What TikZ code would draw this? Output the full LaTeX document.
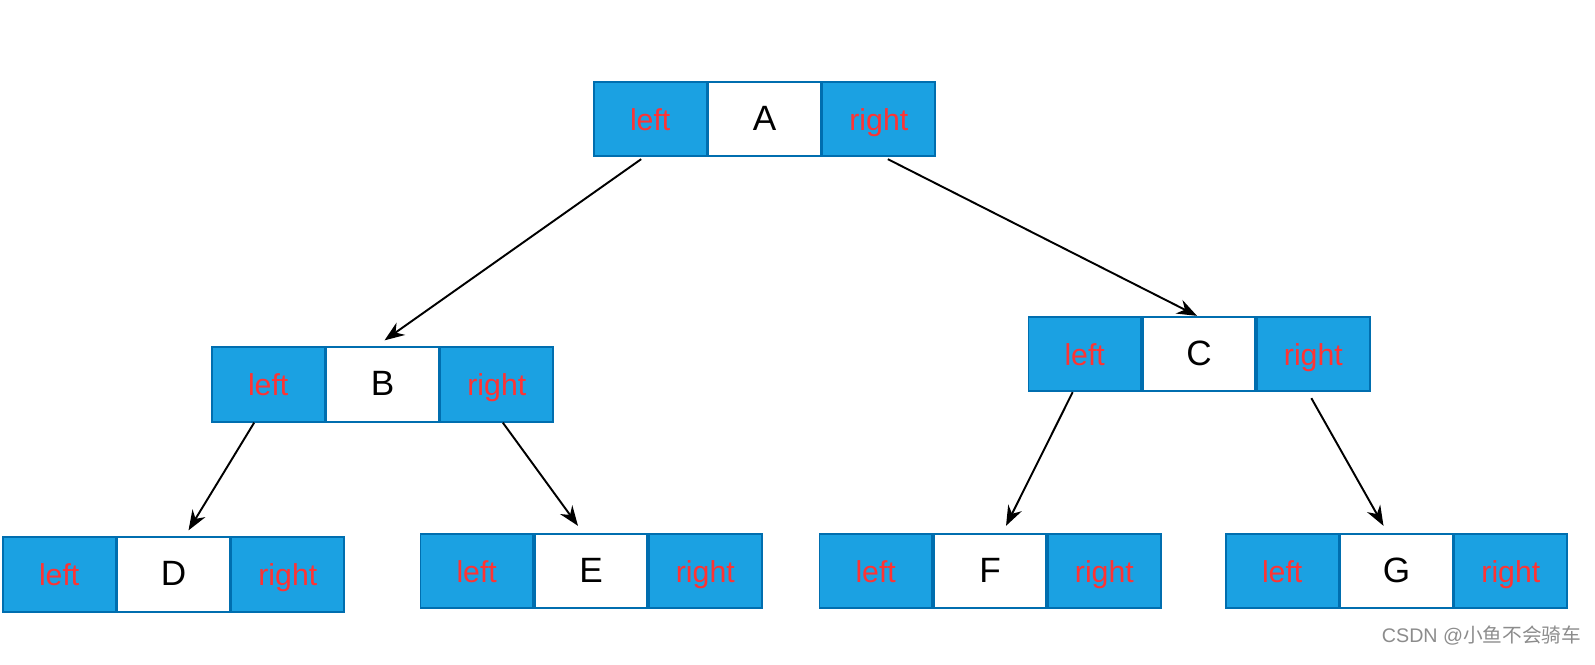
\documentclass[tikz,border=0pt]{standalone}
\usepackage{fontspec}
\setmainfont{Liberation Sans}
\newfontfamily\cjk{Noto Sans CJK SC}
\usepackage{tikz}
\usetikzlibrary{positioning,arrows.meta}
\definecolor{cellblue}{HTML}{1BA1E2}
\definecolor{cellline}{HTML}{006EAF}
\definecolor{ptrred}{HTML}{FF3333}
\tikzset{cell/.style={rectangle, draw=cellline, line width=0.5pt, minimum width=1.125cm,
      minimum height=0.745cm, inner sep=0pt, text height=1.6ex, text depth=0.4ex,
      font=\fontsize{8.6}{10}\selectfont},
  ptr/.style={cell, fill=cellblue, text=ptrred},
  key/.style={cell, fill=white, text=black, font=\fontsize{10}{12}\selectfont},
  link/.style={-{Stealth[length=2mm,width=1.5mm]}, line width=0.55pt}}
% one tree node: left pointer, key, right pointer
\newcommand{\treenode}[4]{
  \node[key] (#1) at (#2,#3) {#4};
  \node[ptr,left=0pt of #1] (#1l) {left};
  \node[ptr,right=0pt of #1] (#1r) {right};
}

\begin{document}
\begin{tikzpicture}[x=0.01cm,y=-0.01cm]
    \useasboundingbox (0,0) rectangle (1595,664);
    \treenode{A}{764.5}{119}{A}
    \treenode{B}{382.5}{384.5}{B}
    \treenode{C}{1199}{354}{C}
    \treenode{D}{173.5}{574.5}{D}
    \treenode{E}{591}{571}{E}
    \treenode{F}{990}{571}{F}
    \treenode{G}{1396.5}{571}{G}
    \draw[link] ([xshift=-0.09cm,yshift=-0.02cm]Al.south) -- ([xshift=0.02cm,yshift=0.06cm]B.north);
    \draw[link] ([xshift=0.09cm,yshift=-0.02cm]Ar.south) -- ([xshift=-0.02cm]C.north);
    \draw[link] ([xshift=-0.14cm]Bl.south) -- ([xshift=0.15cm,yshift=0.06cm]D.north);
    \draw[link] ([xshift=0.06cm]Br.south) -- ([xshift=-0.13cm,yshift=0.07cm]E.north);
    \draw[link] ([xshift=-0.12cm]Cl.south) -- ([xshift=0.16cm,yshift=0.07cm]F.north);
    \draw[link] ([xshift=-0.02cm,yshift=-0.06cm]Cr.south) -- ([xshift=-0.13cm,yshift=0.07cm]G.north);
    \node[anchor=east, text=black!45, font=\fontsize{5.6}{7}\selectfont, inner sep=0pt] (mark)
      at (1582,636) {CSDN @{\cjk 小鱼不会骑车}};
\end{tikzpicture}
\end{document}
